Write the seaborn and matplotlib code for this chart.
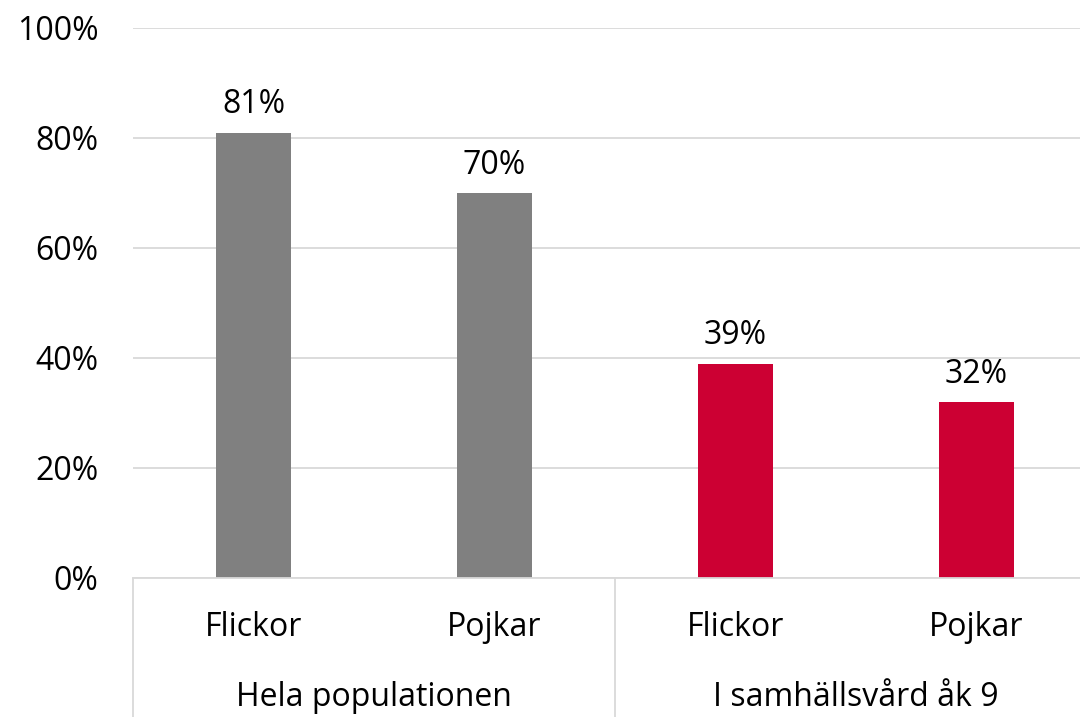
import pandas as pd
import matplotlib.pyplot as plt
import seaborn as sns
from matplotlib.ticker import PercentFormatter

# Data
bar_labels = ["Flickor", "Pojkar", "Flickor", "Pojkar"]
group_labels = ["Hela populationen", "I samhällsvård åk 9"]
values = [81, 70, 39, 32]
bar_colors = ["#808080", "#808080", "#CC0033", "#CC0033"]

sns.set_style("white")
plt.rcParams["font.family"] = ["Open Sans", "DejaVu Sans"]
plt.rcParams["text.color"] = "black"
plt.rcParams["xtick.color"] = "black"
plt.rcParams["ytick.color"] = "black"

FS = 23

df = pd.DataFrame({"pos": range(len(values)), "value": values})

fig = plt.figure(figsize=(10.8, 7.17), dpi=100)
# plot area runs past the right edge, like the cropped original
ax = fig.add_axes([133 / 1080, 1 - 578 / 717, 964 / 1080, 550 / 717])

sns.barplot(data=df, x="pos", y="value", hue="pos", palette=bar_colors,
            width=0.31, legend=False, saturation=1, linewidth=0, ax=ax)

ax.set_ylim(0, 100)
ax.set_xlim(-0.5, len(values) - 0.5)
ax.set_yticks(range(0, 101, 20))
ax.yaxis.set_major_formatter(PercentFormatter(decimals=0))
ax.tick_params(axis="y", length=0, pad=25, labelsize=FS)
ax.grid(axis="y", color="#D9D9D9", linewidth=1.3)
ax.set_axisbelow(True)
for side in ["top", "right", "left"]:
    ax.spines[side].set_visible(False)
ax.spines["bottom"].set_color("#D9D9D9")
ax.spines["bottom"].set_linewidth(1.3)

# first level category labels
ax.set_xticks(range(len(values)))
ax.set_xticklabels(bar_labels, fontsize=FS)
ax.tick_params(axis="x", length=0, pad=24)
ax.set_xlabel("")
ax.set_ylabel("")

# value labels
for p, v in zip(df["pos"], df["value"]):
    ax.annotate(f"{v}%", (p, v), xytext=(0, 8), textcoords="offset points",
                ha="center", va="bottom", fontsize=FS)

# second level group labels and separators
trans = ax.get_xaxis_transform()
for i, g in enumerate(group_labels):
    ax.text(2 * i + 0.5, -0.218, g, transform=trans, ha="center",
            va="center", fontsize=FS)
for x in [-0.5, 1.5, 3.5]:
    ax.plot([x, x], [0, -0.3], transform=trans, color="#D9D9D9",
            linewidth=1.3, clip_on=False)

fig.savefig("out.png", dpi=100)
